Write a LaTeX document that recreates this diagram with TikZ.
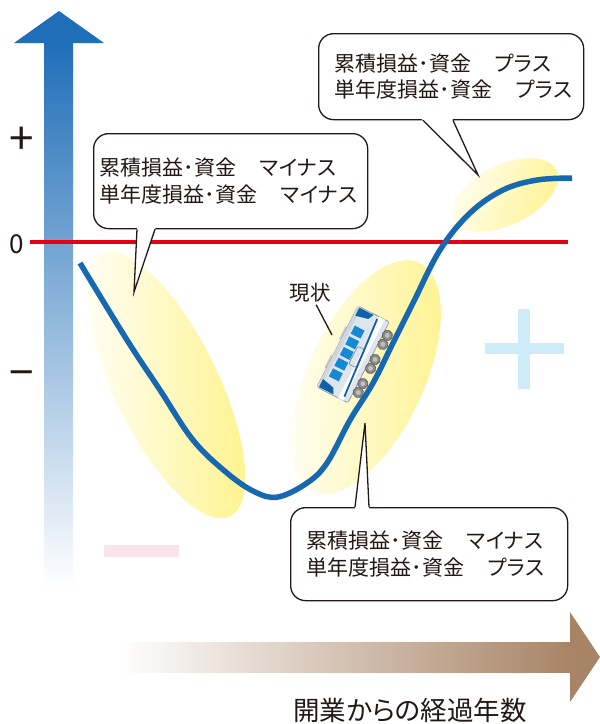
\documentclass[tikz,border=0pt]{standalone}
\usepackage{fontspec}
\setmainfont{Noto Sans CJK JP}[RawFeature=+palt]
\usetikzlibrary{calc}

\definecolor{ink}{RGB}{35,24,21}
\definecolor{curveblue}{RGB}{22,105,177}
\definecolor{zeroline}{RGB}{230,0,18}
\definecolor{axisblue}{RGB}{32,110,184}
\definecolor{axismid}{RGB}{140,164,214}
\definecolor{axisbrown}{RGB}{168,132,102}
\definecolor{hiyellow}{RGB}{255,243,145}
\definecolor{loyellow}{RGB}{255,254,242}
\definecolor{pluscyan}{RGB}{205,235,248}
\definecolor{minuspink}{RGB}{251,227,236}
\definecolor{trainbody}{RGB}{222,229,237}
\definecolor{trainedge}{RGB}{130,142,156}
\definecolor{trainwin}{RGB}{20,137,214}
\definecolor{traindark}{RGB}{14,96,170}
\definecolor{wheel}{RGB}{140,140,140}

\newcommand{\gap}{　\kern3pt}

\tikzset{
  bubble/.style={draw=ink, line width=1.3pt, fill=white, rounded corners=15pt,
    align=left, anchor=north west, inner ysep=0pt, text=ink,
    font=\fontsize{21}{26.5}\selectfont},
  tailline/.style={draw=ink, line width=1.3pt, line join=miter},
  leader/.style={draw=ink, line width=1.3pt},
  trend/.style={draw=curveblue, line width=5.5pt},
  axislabel/.style={text=ink, inner sep=0pt},
}

\begin{document}
\begin{tikzpicture}[x=1pt, y=-1pt]
\useasboundingbox (0,0) rectangle (600,724);
\fill[white] (0,0) rectangle (600,724);

% highlighted phases of the curve
\begin{scope}
  \clip[rotate around={-64:(166,385)}] (166,385) ellipse [x radius=146, y radius=52];
  \shade[left color=loyellow, right color=hiyellow] (88,240) rectangle (245,530);
\end{scope}
\begin{scope}
  \clip[rotate around={65:(366,377)}] (366,377) ellipse [x radius=126, y radius=58];
  \shade[left color=loyellow, right color=hiyellow] (288,255) rectangle (445,500);
\end{scope}
\begin{scope}
  \clip[rotate around={26:(505,195)}] (505,195) ellipse [x radius=57, y radius=30];
  \shade[left color=loyellow, right color=hiyellow, shading angle=70] (448,155) rectangle (562,235);
\end{scope}

% background signs
\fill[minuspink] (104,545) rectangle (179,557);
\fill[pluscyan] (518,309) rectangle (530,389);
\fill[pluscyan] (485,343) rectangle (564,354);

% vertical axis
\shade[top color=axisblue, middle color=axismid, bottom color=white] (44,42) rectangle (73,588);
\fill[axisblue] (14,43) -- (59,11) -- (104,43) -- cycle;
\node[axislabel, font=\fontsize{44}{44}\selectfont] (plus) at (21.5,141) {+};
\node[axislabel, font=\fontsize{26}{26}\selectfont] (zero) at (16.5,244) {0};
\node[axislabel, font=\fontsize{44}{44}\selectfont] (minus) at (21.5,380) {−};

% horizontal axis
\shade[left color=white, right color=axisbrown] (118,642) rectangle (571,672);
\fill[axisbrown] (570,612) -- (600,657) -- (570,702) -- cycle;
\node[text=ink, font=\fontsize{26.5}{26.5}\selectfont, inner sep=0pt] (years) at (410,710) {開業からの経過年数};

% zero line
\draw[zeroline, line width=4pt] (30,242) -- (568,242);

% cumulative trend
\draw[trend] plot[smooth, tension=0.6] coordinates {
  (80,263) (127,340) (160,390) (193,440) (227,473) (255,492) (278,497)
  (307,483) (327,463) (350,420) (373,383) (393,343) (413,303) (440,250)
  (470,213) (503,190) (537,180) (572,178)};

% train on the curve
\coordinate (train) at (355,356);
\begin{scope}[shift={(train)}, rotate=63]
  \fill[trainbody!75!gray] (-24,-22) rectangle (-10,-19);
  \fill[trainbody!75!gray] (8,-22) rectangle (22,-19);
  \filldraw[fill=trainbody, draw=trainedge, line width=0.6pt, rounded corners=2pt]
    (-45,-20) rectangle (46,15);
  \fill[trainbody!85!gray] (-45,-20) rectangle (46,-16);
  \fill[white] (-45,4) rectangle (46,10);
  % end windshields
  \fill[traindark] (36,-18) -- (45,-18) -- (45,-2) -- (39,-5) -- cycle;
  \fill[traindark] (-35,-18) -- (-44,-18) -- (-44,-2) -- (-38,-5) -- cycle;
  % side windows
  \foreach \wx in {-30,-18,-6,6,18} {
    \fill[trainwin] (\wx,-14) rectangle ++(9,11);
  }
  % door outline
  \draw[trainedge, line width=0.7pt, rounded corners=2pt] (-10,-2) rectangle (10,6);
  % stripes
  \draw[traindark, line width=1.8pt] (-41,9) -- (43,3);
  % wheels
  \foreach \wx in {-31,-21,-4,6,23,33} {
    \filldraw[fill=wheel, draw=ink!70, line width=0.7pt] (\wx,19.5) circle [radius=5.2];
    \fill[wheel!55!white] (\wx,19.5) circle [radius=2.4];
  }
\end{scope}

% label for the current position
\node[text=ink, font=\fontsize{20.5}{20.5}\selectfont, inner sep=2pt] (genjo) at (310,293) {現状};
\coordinate (trainroof) at (332,335);
\draw[leader] (genjo) -- (trainroof);

% speech bubbles
\node[bubble, minimum width=274pt, minimum height=95pt, inner xsep=6pt, text width=262pt]
  (b1) at (93,133) {累積損益･資金\gap マイナス\\単年度損益･資金\gap マイナス};
\node[bubble, minimum width=265pt, minimum height=86pt, inner xsep=16pt, text width=233pt]
  (b2) at (318,33) {累積損益･資金\gap プラス\\単年度損益･資金\gap プラス};
\node[bubble, minimum width=277pt, minimum height=93pt, inner xsep=16pt, text width=245pt]
  (b3) at (290,507) {累積損益･資金\gap マイナス\\単年度損益･資金\gap プラス};

% bubble tails
\coordinate (t1) at (134,292);
\coordinate (t1a) at ($(b1.south west)+(44,0)$);
\coordinate (t1b) at ($(b1.south west)+(62,0)$);
\fill[white] ($(t1)!1.05!(t1a)$) -- (t1) -- ($(t1)!1.05!(t1b)$) -- cycle;
\draw[tailline] (t1a) -- (t1) -- (t1b);

\coordinate (t2) at (478,175);
\coordinate (t2a) at ($(b2.south west)+(105,0)$);
\coordinate (t2b) at ($(b2.south west)+(135,0)$);
\fill[white] ($(t2)!1.05!(t2a)$) -- (t2) -- ($(t2)!1.05!(t2b)$) -- cycle;
\draw[tailline] (t2a) -- (t2) -- (t2b);

\coordinate (t3) at (365,423);
\coordinate (t3a) at ($(b3.north west)+(65,0)$);
\coordinate (t3b) at ($(b3.north west)+(79,0)$);
\fill[white] ($(t3)!1.05!(t3a)$) -- (t3) -- ($(t3)!1.05!(t3b)$) -- cycle;
\draw[tailline] (t3a) -- (t3) -- (t3b);
\end{tikzpicture}
\end{document}
